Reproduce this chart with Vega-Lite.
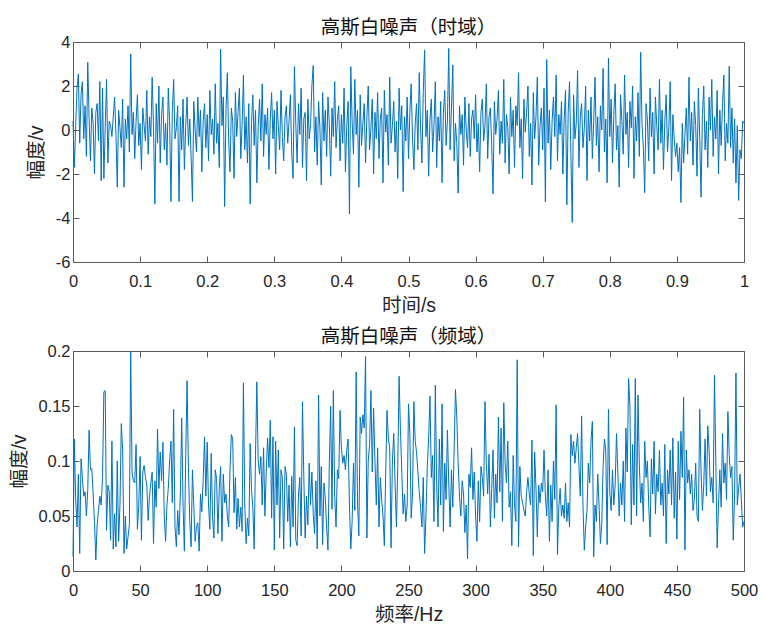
{
"$schema":"https://vega.github.io/schema/vega-lite/v6.json",
"background":"white",
"padding":{"left":8,"top":17,"right":5,"bottom":5},
"spacing":10,
"config":{
"font":"Liberation Sans, Noto Sans CJK SC",
"view":{"stroke":"#5a5a5a","strokeWidth":1},
"axis":{"domain":false,"grid":false,"tickSize":-6,"tickColor":"#5a5a5a","tickWidth":1,"labelFontSize":16.5,"labelColor":"#262626","titleFontSize":19.5,"titleFontWeight":"normal","titleColor":"#262626","labelFont":"Liberation Sans, Noto Sans CJK SC","titleFont":"Liberation Sans, Noto Sans CJK SC"},
"axisX":{"labelPadding":17,"titlePadding":7,"labelFlush":false},
"axisY":{"labelPadding":9,"titlePadding":7},
"title":{"fontSize":19.5,"fontWeight":"normal","color":"#111111","offset":-4,"frame":"group","anchor":"middle","font":"Liberation Sans, Noto Sans CJK SC"}
},
"datasets":{
"time":[
{"t":0,"v":0.4},{"t":0.002,"v":-1.7},{"t":0.004,"v":0.2},{"t":0.006,"v":1.9},{"t":0.008,"v":2.55},{"t":0.010,"v":-0.6},{"t":0.012,"v":1.6},{"t":0.014,"v":2.2},{"t":0.016,"v":-0.4},
{"t":0.018,"v":1.1},{"t":0.020,"v":-1.2},{"t":0.022,"v":3.08},{"t":0.024,"v":0.5},{"t":0.026,"v":-1.4},{"t":0.028,"v":1.0},{"t":0.030,"v":0.3},{"t":0.032,"v":-2.0},{"t":0.034,"v":0.8},{"t":0.036,"v":1.2},
{"t":0.038,"v":-0.5},{"t":0.040,"v":2.2},{"t":0.042,"v":-2.3},{"t":0.044,"v":1.9},{"t":0.046,"v":-2.2},{"t":0.048,"v":0.1},{"t":0.050,"v":2.3},{"t":0.052,"v":-1.5},{"t":0.054,"v":0.4},{"t":0.056,"v":0.2},
{"t":0.058,"v":-0.3},{"t":0.060,"v":0.6},{"t":0.062,"v":1.5},{"t":0.064,"v":-0.2},{"t":0.066,"v":-2.6},{"t":0.068,"v":0.9},{"t":0.070,"v":0.1},{"t":0.072,"v":-0.8},{"t":0.074,"v":1.4},{"t":0.076,"v":-2.6},
{"t":0.078,"v":0.5},{"t":0.080,"v":-0.4},{"t":0.082,"v":1.1},{"t":0.084,"v":-1.0},{"t":0.086,"v":3.46},{"t":0.088,"v":-0.2},{"t":0.090,"v":0.8},{"t":0.092,"v":-1.3},{"t":0.094,"v":0.4},{"t":0.096,"v":1.6},
{"t":0.098,"v":-0.7},{"t":0.100,"v":0.3},{"t":0.102,"v":-1.8},{"t":0.104,"v":1.0},{"t":0.106,"v":0.2},{"t":0.108,"v":-0.5},{"t":0.110,"v":1.8},{"t":0.112,"v":-1.1},{"t":0.114,"v":0.6},{"t":0.116,"v":-0.3},
{"t":0.118,"v":2.4},{"t":0.120,"v":0.1},{"t":0.122,"v":-3.37},{"t":0.124,"v":1.2},{"t":0.126,"v":-0.6},{"t":0.128,"v":2.0},{"t":0.130,"v":-1.5},{"t":0.132,"v":0.7},{"t":0.134,"v":1.5},{"t":0.136,"v":-0.9},
{"t":0.138,"v":0.3},{"t":0.140,"v":-1.6},{"t":0.142,"v":1.9},{"t":0.144,"v":0.4},{"t":0.146,"v":-3.25},{"t":0.148,"v":0.8},{"t":0.150,"v":2.3},{"t":0.152,"v":-0.4},{"t":0.154,"v":0.1},{"t":0.156,"v":1.1},
{"t":0.158,"v":-3.25},{"t":0.160,"v":0.6},{"t":0.162,"v":-0.9},{"t":0.164,"v":1.4},{"t":0.166,"v":-1.8},{"t":0.168,"v":0.2},{"t":0.170,"v":1.5},{"t":0.172,"v":-0.7},{"t":0.174,"v":0.5},{"t":0.176,"v":-1.2},
{"t":0.178,"v":-3.25},{"t":0.180,"v":1.3},{"t":0.182,"v":0.0},{"t":0.184,"v":-1.0},{"t":0.186,"v":1.5},{"t":0.188,"v":-0.3},{"t":0.190,"v":0.9},{"t":0.192,"v":-1.9},{"t":0.194,"v":0.4},{"t":0.196,"v":1.2},
{"t":0.198,"v":-0.8},{"t":0.200,"v":0.7},{"t":0.202,"v":-1.4},{"t":0.204,"v":1.8},{"t":0.206,"v":-0.2},{"t":0.208,"v":0.5},{"t":0.210,"v":-1.1},{"t":0.212,"v":2.1},{"t":0.214,"v":-0.6},{"t":0.216,"v":0.3},
{"t":0.218,"v":-1.7},{"t":0.220,"v":3.68},{"t":0.222,"v":0.2},{"t":0.224,"v":1.5},{"t":0.226,"v":-3.48},{"t":0.228,"v":0.9},{"t":0.230,"v":2.6},{"t":0.232,"v":-0.5},{"t":0.234,"v":-1.9},{"t":0.236,"v":1.0},
{"t":0.238,"v":0.4},{"t":0.240,"v":-2.2},{"t":0.242,"v":1.7},{"t":0.244,"v":-0.3},{"t":0.246,"v":0.8},{"t":0.248,"v":1.9},{"t":0.250,"v":-1.3},{"t":0.252,"v":0.2},{"t":0.254,"v":2.5},{"t":0.256,"v":-0.9},
{"t":0.258,"v":0.6},{"t":0.260,"v":-1.5},{"t":0.262,"v":1.2},{"t":0.264,"v":-3.37},{"t":0.266,"v":0.3},{"t":0.268,"v":1.6},{"t":0.270,"v":-0.7},{"t":0.272,"v":0.9},{"t":0.274,"v":-2.4},{"t":0.276,"v":0.1},
{"t":0.278,"v":1.4},{"t":0.280,"v":-0.5},{"t":0.282,"v":2.1},{"t":0.284,"v":-1.2},{"t":0.286,"v":0.7},{"t":0.288,"v":-0.2},{"t":0.290,"v":1.0},{"t":0.292,"v":-1.8},{"t":0.294,"v":0.5},{"t":0.296,"v":1.7},
{"t":0.298,"v":-0.4},{"t":0.300,"v":0.9},{"t":0.302,"v":-2.0},{"t":0.304,"v":1.3},{"t":0.306,"v":0.2},{"t":0.308,"v":-0.9},{"t":0.310,"v":1.8},{"t":0.312,"v":-0.3},{"t":0.314,"v":-1.4},{"t":0.316,"v":0.6},
{"t":0.318,"v":1.1},{"t":0.320,"v":-0.6},{"t":0.322,"v":0.4},{"t":0.324,"v":1.6},{"t":0.326,"v":-1.1},{"t":0.328,"v":-2.2},{"t":0.330,"v":2.88},{"t":0.332,"v":0.3},{"t":0.334,"v":-1.5},{"t":0.336,"v":1.2},
{"t":0.338,"v":-0.2},{"t":0.340,"v":1.9},{"t":0.342,"v":-1.7},{"t":0.344,"v":0.5},{"t":0.346,"v":0.8},{"t":0.348,"v":-2.3},{"t":0.350,"v":1.4},{"t":0.352,"v":-0.4},{"t":0.354,"v":0.2},{"t":0.356,"v":2.0},
{"t":0.358,"v":2.93},{"t":0.360,"v":-1.0},{"t":0.362,"v":0.6},{"t":0.364,"v":-1.6},{"t":0.366,"v":1.3},{"t":0.368,"v":0.1},{"t":0.370,"v":-2.5},{"t":0.372,"v":1.7},{"t":0.374,"v":-0.5},{"t":0.376,"v":0.9},
{"t":0.378,"v":-1.2},{"t":0.380,"v":1.5},{"t":0.382,"v":0.3},{"t":0.384,"v":-2.1},{"t":0.386,"v":1.0},{"t":0.388,"v":-0.3},{"t":0.390,"v":2.2},{"t":0.392,"v":-0.8},{"t":0.394,"v":0.5},{"t":0.396,"v":1.1},
{"t":0.398,"v":-1.4},{"t":0.400,"v":0.7},{"t":0.402,"v":-0.6},{"t":0.404,"v":1.9},{"t":0.406,"v":-1.9},{"t":0.408,"v":0.2},{"t":0.410,"v":1.3},{"t":0.412,"v":-3.82},{"t":0.414,"v":2.88},{"t":0.416,"v":0.4},
{"t":0.418,"v":-1.1},{"t":0.420,"v":2.3},{"t":0.422,"v":-0.2},{"t":0.424,"v":0.9},{"t":0.426,"v":-2.6},{"t":0.428,"v":1.6},{"t":0.430,"v":-0.7},{"t":0.432,"v":0.3},{"t":0.434,"v":1.2},{"t":0.436,"v":-1.5},
{"t":0.438,"v":0.6},{"t":0.440,"v":2.0},{"t":0.442,"v":-0.9},{"t":0.444,"v":0.1},{"t":0.446,"v":1.4},{"t":0.448,"v":-2.0},{"t":0.450,"v":0.8},{"t":0.452,"v":-0.4},{"t":0.454,"v":1.7},{"t":0.456,"v":-1.3},
{"t":0.458,"v":0.5},{"t":0.460,"v":1.0},{"t":0.462,"v":-2.4},{"t":0.464,"v":1.8},{"t":0.466,"v":-0.1},{"t":0.468,"v":0.7},{"t":0.470,"v":-1.6},{"t":0.472,"v":2.4},{"t":0.474,"v":-0.6},{"t":0.476,"v":0.2},
{"t":0.478,"v":1.3},{"t":0.480,"v":-1.0},{"t":0.482,"v":0.4},{"t":0.484,"v":-2.2},{"t":0.486,"v":1.9},{"t":0.488,"v":0.0},{"t":0.490,"v":1.1},{"t":0.492,"v":-2.8},{"t":0.494,"v":0.6},{"t":0.496,"v":-0.5},
{"t":0.498,"v":1.5},{"t":0.500,"v":-1.3},{"t":0.502,"v":0.8},{"t":0.504,"v":2.1},{"t":0.506,"v":-0.4},{"t":0.508,"v":-1.8},{"t":0.510,"v":0.3},{"t":0.512,"v":1.2},{"t":0.514,"v":-0.9},{"t":0.516,"v":2.6},
{"t":0.518,"v":0.1},{"t":0.520,"v":-1.5},{"t":0.522,"v":1.7},{"t":0.524,"v":3.64},{"t":0.526,"v":-0.3},{"t":0.528,"v":0.9},{"t":0.530,"v":-2.1},{"t":0.532,"v":0.5},{"t":0.534,"v":1.4},{"t":0.536,"v":-1.0},
{"t":0.538,"v":0.2},{"t":0.540,"v":2.2},{"t":0.542,"v":-1.7},{"t":0.544,"v":0.6},{"t":0.546,"v":-0.5},{"t":0.548,"v":1.3},{"t":0.550,"v":-2.4},{"t":0.552,"v":0.8},{"t":0.554,"v":1.8},{"t":0.556,"v":-0.7},
{"t":0.558,"v":0.4},{"t":0.560,"v":3.71},{"t":0.562,"v":-0.9},{"t":0.564,"v":1.0},{"t":0.566,"v":2.96},{"t":0.568,"v":-1.4},{"t":0.570,"v":0.3},{"t":0.572,"v":-0.6},{"t":0.574,"v":-2.87},{"t":0.576,"v":1.1},
{"t":0.578,"v":-0.2},{"t":0.580,"v":0.7},{"t":0.582,"v":-1.6},{"t":0.584,"v":1.5},{"t":0.586,"v":0.0},{"t":0.588,"v":-0.8},{"t":0.590,"v":1.2},{"t":0.592,"v":-1.2},{"t":0.594,"v":0.5},{"t":0.596,"v":0.9},
{"t":0.598,"v":-0.4},{"t":0.600,"v":1.6},{"t":0.602,"v":-1.0},{"t":0.604,"v":0.3},{"t":0.606,"v":-1.9},{"t":0.608,"v":0.8},{"t":0.610,"v":1.4},{"t":0.612,"v":-0.5},{"t":0.614,"v":0.2},{"t":0.616,"v":2.1},
{"t":0.618,"v":-1.3},{"t":0.620,"v":0.6},{"t":0.622,"v":1.0},{"t":0.624,"v":-0.7},{"t":0.626,"v":-2.9},{"t":0.628,"v":1.3},{"t":0.630,"v":-0.2},{"t":0.632,"v":0.5},{"t":0.634,"v":1.8},{"t":0.636,"v":-1.1},
{"t":0.638,"v":0.4},{"t":0.640,"v":-0.6},{"t":0.642,"v":2.3},{"t":0.644,"v":-1.5},{"t":0.646,"v":0.7},{"t":0.648,"v":0.1},{"t":0.650,"v":-2.0},{"t":0.652,"v":1.5},{"t":0.654,"v":-0.3},{"t":0.656,"v":0.9},
{"t":0.658,"v":-1.7},{"t":0.660,"v":1.1},{"t":0.662,"v":0.2},{"t":0.664,"v":2.6},{"t":0.666,"v":-0.8},{"t":0.668,"v":0.5},{"t":0.670,"v":-2.2},{"t":0.672,"v":1.4},{"t":0.674,"v":-0.1},{"t":0.676,"v":0.8},
{"t":0.678,"v":2.0},{"t":0.680,"v":-1.2},{"t":0.682,"v":0.3},{"t":0.684,"v":-2.5},{"t":0.686,"v":1.7},{"t":0.688,"v":-0.4},{"t":0.690,"v":0.6},{"t":0.692,"v":2.4},{"t":0.694,"v":-1.6},{"t":0.696,"v":0.2},
{"t":0.698,"v":1.0},{"t":0.700,"v":-0.9},{"t":0.702,"v":1.9},{"t":0.704,"v":-3.27},{"t":0.706,"v":3.2},{"t":0.708,"v":-0.6},{"t":0.710,"v":0.9},{"t":0.712,"v":-1.8},{"t":0.714,"v":0.4},{"t":0.716,"v":1.5},
{"t":0.718,"v":-0.3},{"t":0.720,"v":2.5},{"t":0.722,"v":-1.4},{"t":0.724,"v":0.7},{"t":0.726,"v":-0.2},{"t":0.728,"v":1.3},{"t":0.730,"v":-2.0},{"t":0.732,"v":0.5},{"t":0.734,"v":1.8},{"t":0.736,"v":-3.4},
{"t":0.738,"v":0.8},{"t":0.740,"v":2.2},{"t":0.742,"v":-1.1},{"t":0.744,"v":-4.2},{"t":0.746,"v":1.6},{"t":0.748,"v":-0.4},{"t":0.750,"v":0.3},{"t":0.752,"v":2.7},{"t":0.754,"v":-1.7},{"t":0.756,"v":0.6},
{"t":0.758,"v":1.2},{"t":0.760,"v":-0.8},{"t":0.762,"v":0.1},{"t":0.764,"v":2.0},{"t":0.766,"v":-2.3},{"t":0.768,"v":0.9},{"t":0.770,"v":-0.5},{"t":0.772,"v":1.5},{"t":0.774,"v":-1.3},{"t":0.776,"v":0.4},
{"t":0.778,"v":2.4},{"t":0.780,"v":-0.7},{"t":0.782,"v":0.6},{"t":0.784,"v":-1.9},{"t":0.786,"v":1.1},{"t":0.788,"v":0.0},{"t":0.790,"v":2.8},{"t":0.792,"v":-1.0},{"t":0.794,"v":0.5},{"t":0.796,"v":-2.4},
{"t":0.798,"v":3.27},{"t":0.800,"v":-0.3},{"t":0.802,"v":1.4},{"t":0.804,"v":-1.5},{"t":0.806,"v":0.7},{"t":0.808,"v":2.1},{"t":0.810,"v":-0.9},{"t":0.812,"v":0.2},{"t":0.814,"v":-2.6},{"t":0.816,"v":1.6},
{"t":0.818,"v":0.4},{"t":0.820,"v":-1.1},{"t":0.822,"v":2.5},{"t":0.824,"v":-0.2},{"t":0.826,"v":0.8},{"t":0.828,"v":-1.7},{"t":0.830,"v":1.3},{"t":0.832,"v":0.1},{"t":0.834,"v":2.0},{"t":0.836,"v":-2.2},
{"t":0.838,"v":0.6},{"t":0.840,"v":-0.5},{"t":0.842,"v":1.7},{"t":0.844,"v":-1.2},{"t":0.846,"v":3.53},{"t":0.848,"v":0.3},{"t":0.850,"v":-0.8},{"t":0.852,"v":-2.85},{"t":0.854,"v":1.2},{"t":0.856,"v":0.5},
{"t":0.858,"v":-1.4},{"t":0.860,"v":1.9},{"t":0.862,"v":-0.3},{"t":0.864,"v":0.8},{"t":0.866,"v":-2.0},{"t":0.868,"v":1.5},{"t":0.870,"v":0.2},{"t":0.872,"v":-0.9},{"t":0.874,"v":2.3},{"t":0.876,"v":-0.6},
{"t":0.878,"v":0.9},{"t":0.880,"v":-1.8},{"t":0.882,"v":0.4},{"t":0.884,"v":1.6},{"t":0.886,"v":-1.0},{"t":0.888,"v":0.1},{"t":0.890,"v":2.2},{"t":0.892,"v":-2.3},{"t":0.894,"v":0.7},{"t":0.896,"v":-0.4},
{"t":0.898,"v":-1.2},{"t":0.900,"v":-0.6},{"t":0.902,"v":-1.9},{"t":0.904,"v":-0.8},{"t":0.906,"v":-3.3},{"t":0.908,"v":0.3},{"t":0.910,"v":-1.5},{"t":0.912,"v":-0.2},{"t":0.914,"v":1.0},{"t":0.916,"v":-1.1},
{"t":0.918,"v":2.4},{"t":0.920,"v":-0.5},{"t":0.922,"v":0.8},{"t":0.924,"v":-1.6},{"t":0.926,"v":1.3},{"t":0.928,"v":0.2},{"t":0.930,"v":-2.1},{"t":0.932,"v":1.9},{"t":0.934,"v":-0.3},{"t":0.936,"v":-3.05},
{"t":0.938,"v":0.7},{"t":0.940,"v":2.0},{"t":0.942,"v":-0.9},{"t":0.944,"v":0.4},{"t":0.946,"v":-1.7},{"t":0.948,"v":1.5},{"t":0.950,"v":0.0},{"t":0.952,"v":2.3},{"t":0.954,"v":-1.2},{"t":0.956,"v":0.6},
{"t":0.958,"v":-0.4},{"t":0.960,"v":1.8},{"t":0.962,"v":-2.0},{"t":0.964,"v":0.9},{"t":0.966,"v":-0.7},{"t":0.968,"v":1.2},{"t":0.970,"v":2.5},{"t":0.972,"v":-1.4},{"t":0.974,"v":0.3},{"t":0.976,"v":-0.6},
{"t":0.978,"v":2.9},{"t":0.980,"v":-0.8},{"t":0.982,"v":1.0},{"t":0.984,"v":-1.5},{"t":0.986,"v":0.5},{"t":0.988,"v":-2.4},{"t":0.990,"v":0.2},{"t":0.992,"v":-3.2},{"t":0.994,"v":-0.9},{"t":0.996,"v":-1.3},
{"t":0.998,"v":0.4},{"t":1.000,"v":0.3}
],
"freq":[
{"f":0,"a":0.013},{"f":1,"a":0.120},{"f":2,"a":0.065},{"f":3,"a":0.040},{"f":4,"a":0.088},{"f":5,"a":0.016},{"f":6,"a":0.102},{"f":7,"a":0.085},{"f":8,"a":0.068},
{"f":9,"a":0.072},{"f":10,"a":0.050},{"f":11,"a":0.074},{"f":12,"a":0.128},{"f":13,"a":0.092},{"f":14,"a":0.093},{"f":15,"a":0.070},{"f":16,"a":0.045},{"f":17,"a":0.010},{"f":18,"a":0.042},
{"f":19,"a":0.055},{"f":20,"a":0.068},{"f":21,"a":0.060},{"f":22,"a":0.085},{"f":23,"a":0.163},{"f":24,"a":0.164},{"f":25,"a":0.037},{"f":26,"a":0.078},{"f":27,"a":0.072},{"f":28,"a":0.028},
{"f":29,"a":0.118},{"f":30,"a":0.020},{"f":31,"a":0.052},{"f":32,"a":0.022},{"f":33,"a":0.100},{"f":34,"a":0.027},{"f":35,"a":0.060},{"f":36,"a":0.134},{"f":37,"a":0.110},{"f":38,"a":0.016},
{"f":39,"a":0.050},{"f":40,"a":0.020},{"f":41,"a":0.031},{"f":42,"a":0.042},{"f":43,"a":0.199},{"f":44,"a":0.090},{"f":45,"a":0.082},{"f":46,"a":0.080},{"f":47,"a":0.115},{"f":48,"a":0.038},
{"f":49,"a":0.060},{"f":50,"a":0.104},{"f":51,"a":0.028},{"f":52,"a":0.090},{"f":53,"a":0.096},{"f":54,"a":0.085},{"f":55,"a":0.078},{"f":56,"a":0.046},{"f":57,"a":0.068},{"f":58,"a":0.080},
{"f":59,"a":0.090},{"f":60,"a":0.025},{"f":61,"a":0.082},{"f":62,"a":0.058},{"f":63,"a":0.129},{"f":64,"a":0.075},{"f":65,"a":0.108},{"f":66,"a":0.082},{"f":67,"a":0.117},{"f":68,"a":0.050},
{"f":69,"a":0.027},{"f":70,"a":0.060},{"f":71,"a":0.075},{"f":72,"a":0.100},{"f":73,"a":0.118},{"f":74,"a":0.062},{"f":75,"a":0.147},{"f":76,"a":0.040},{"f":77,"a":0.022},{"f":78,"a":0.055},
{"f":79,"a":0.033},{"f":80,"a":0.070},{"f":81,"a":0.139},{"f":82,"a":0.060},{"f":83,"a":0.018},{"f":84,"a":0.105},{"f":85,"a":0.173},{"f":86,"a":0.095},{"f":87,"a":0.045},{"f":88,"a":0.022},
{"f":89,"a":0.092},{"f":90,"a":0.060},{"f":91,"a":0.027},{"f":92,"a":0.040},{"f":93,"a":0.044},{"f":94,"a":0.018},{"f":95,"a":0.070},{"f":96,"a":0.054},{"f":97,"a":0.083},{"f":98,"a":0.122},
{"f":99,"a":0.068},{"f":100,"a":0.117},{"f":101,"a":0.060},{"f":102,"a":0.038},{"f":103,"a":0.107},{"f":104,"a":0.048},{"f":105,"a":0.030},{"f":106,"a":0.092},{"f":107,"a":0.084},{"f":108,"a":0.034},
{"f":109,"a":0.075},{"f":110,"a":0.095},{"f":111,"a":0.027},{"f":112,"a":0.088},{"f":113,"a":0.062},{"f":114,"a":0.070},{"f":115,"a":0.050},{"f":116,"a":0.040},{"f":117,"a":0.092},{"f":118,"a":0.124},
{"f":119,"a":0.120},{"f":120,"a":0.053},{"f":121,"a":0.085},{"f":122,"a":0.038},{"f":123,"a":0.066},{"f":124,"a":0.040},{"f":125,"a":0.058},{"f":126,"a":0.036},{"f":127,"a":0.171},{"f":128,"a":0.060},
{"f":129,"a":0.025},{"f":130,"a":0.048},{"f":131,"a":0.032},{"f":132,"a":0.116},{"f":133,"a":0.074},{"f":134,"a":0.058},{"f":135,"a":0.020},{"f":136,"a":0.105},{"f":137,"a":0.172},{"f":138,"a":0.100},
{"f":139,"a":0.088},{"f":140,"a":0.104},{"f":141,"a":0.060},{"f":142,"a":0.112},{"f":143,"a":0.050},{"f":144,"a":0.090},{"f":145,"a":0.121},{"f":146,"a":0.094},{"f":147,"a":0.137},{"f":148,"a":0.048},
{"f":149,"a":0.122},{"f":150,"a":0.019},{"f":151,"a":0.118},{"f":152,"a":0.060},{"f":153,"a":0.110},{"f":154,"a":0.030},{"f":155,"a":0.092},{"f":156,"a":0.085},{"f":157,"a":0.020},{"f":158,"a":0.095},
{"f":159,"a":0.088},{"f":160,"a":0.045},{"f":161,"a":0.078},{"f":162,"a":0.022},{"f":163,"a":0.086},{"f":164,"a":0.040},{"f":165,"a":0.131},{"f":166,"a":0.028},{"f":167,"a":0.023},{"f":168,"a":0.068},
{"f":169,"a":0.085},{"f":170,"a":0.032},{"f":171,"a":0.154},{"f":172,"a":0.085},{"f":173,"a":0.030},{"f":174,"a":0.068},{"f":175,"a":0.042},{"f":176,"a":0.098},{"f":177,"a":0.060},{"f":178,"a":0.090},
{"f":179,"a":0.052},{"f":180,"a":0.034},{"f":181,"a":0.082},{"f":182,"a":0.020},{"f":183,"a":0.160},{"f":184,"a":0.050},{"f":185,"a":0.095},{"f":186,"a":0.024},{"f":187,"a":0.080},{"f":188,"a":0.066},
{"f":189,"a":0.040},{"f":190,"a":0.019},{"f":191,"a":0.098},{"f":192,"a":0.150},{"f":193,"a":0.056},{"f":194,"a":0.164},{"f":195,"a":0.068},{"f":196,"a":0.040},{"f":197,"a":0.092},{"f":198,"a":0.084},
{"f":199,"a":0.146},{"f":200,"a":0.112},{"f":201,"a":0.098},{"f":202,"a":0.105},{"f":203,"a":0.092},{"f":204,"a":0.110},{"f":205,"a":0.120},{"f":206,"a":0.060},{"f":207,"a":0.020},{"f":208,"a":0.045},
{"f":209,"a":0.098},{"f":210,"a":0.055},{"f":211,"a":0.181},{"f":212,"a":0.062},{"f":213,"a":0.032},{"f":214,"a":0.140},{"f":215,"a":0.125},{"f":216,"a":0.142},{"f":217,"a":0.130},{"f":218,"a":0.195},
{"f":219,"a":0.030},{"f":220,"a":0.100},{"f":221,"a":0.115},{"f":222,"a":0.164},{"f":223,"a":0.090},{"f":224,"a":0.148},{"f":225,"a":0.100},{"f":226,"a":0.060},{"f":227,"a":0.112},{"f":228,"a":0.040},
{"f":229,"a":0.085},{"f":230,"a":0.065},{"f":231,"a":0.050},{"f":232,"a":0.023},{"f":233,"a":0.088},{"f":234,"a":0.146},{"f":235,"a":0.120},{"f":236,"a":0.112},{"f":237,"a":0.021},{"f":238,"a":0.100},
{"f":239,"a":0.125},{"f":240,"a":0.080},{"f":241,"a":0.040},{"f":242,"a":0.095},{"f":243,"a":0.177},{"f":244,"a":0.128},{"f":245,"a":0.090},{"f":246,"a":0.052},{"f":247,"a":0.070},{"f":248,"a":0.045},
{"f":249,"a":0.060},{"f":250,"a":0.152},{"f":251,"a":0.125},{"f":252,"a":0.048},{"f":253,"a":0.070},{"f":254,"a":0.154},{"f":255,"a":0.118},{"f":256,"a":0.108},{"f":257,"a":0.090},{"f":258,"a":0.072},
{"f":259,"a":0.058},{"f":260,"a":0.040},{"f":261,"a":0.085},{"f":262,"a":0.016},{"f":263,"a":0.050},{"f":264,"a":0.095},{"f":265,"a":0.120},{"f":266,"a":0.159},{"f":267,"a":0.085},{"f":268,"a":0.105},
{"f":269,"a":0.045},{"f":270,"a":0.169},{"f":271,"a":0.078},{"f":272,"a":0.040},{"f":273,"a":0.120},{"f":274,"a":0.060},{"f":275,"a":0.152},{"f":276,"a":0.036},{"f":277,"a":0.098},{"f":278,"a":0.065},
{"f":279,"a":0.128},{"f":280,"a":0.080},{"f":281,"a":0.040},{"f":282,"a":0.092},{"f":283,"a":0.058},{"f":284,"a":0.110},{"f":285,"a":0.165},{"f":286,"a":0.140},{"f":287,"a":0.098},{"f":288,"a":0.068},
{"f":289,"a":0.050},{"f":290,"a":0.082},{"f":291,"a":0.070},{"f":292,"a":0.035},{"f":293,"a":0.060},{"f":294,"a":0.011},{"f":295,"a":0.088},{"f":296,"a":0.076},{"f":297,"a":0.112},{"f":298,"a":0.065},
{"f":299,"a":0.090},{"f":300,"a":0.050},{"f":301,"a":0.027},{"f":302,"a":0.082},{"f":303,"a":0.045},{"f":304,"a":0.095},{"f":305,"a":0.085},{"f":306,"a":0.068},{"f":307,"a":0.154},{"f":308,"a":0.098},
{"f":309,"a":0.070},{"f":310,"a":0.106},{"f":311,"a":0.040},{"f":312,"a":0.075},{"f":313,"a":0.110},{"f":314,"a":0.048},{"f":315,"a":0.088},{"f":316,"a":0.062},{"f":317,"a":0.140},{"f":318,"a":0.072},
{"f":319,"a":0.130},{"f":320,"a":0.045},{"f":321,"a":0.153},{"f":322,"a":0.098},{"f":323,"a":0.080},{"f":324,"a":0.118},{"f":325,"a":0.058},{"f":326,"a":0.072},{"f":327,"a":0.023},{"f":328,"a":0.105},
{"f":329,"a":0.060},{"f":330,"a":0.045},{"f":331,"a":0.192},{"f":332,"a":0.022},{"f":333,"a":0.095},{"f":334,"a":0.068},{"f":335,"a":0.062},{"f":336,"a":0.055},{"f":337,"a":0.050},{"f":338,"a":0.072},
{"f":339,"a":0.085},{"f":340,"a":0.070},{"f":341,"a":0.060},{"f":342,"a":0.119},{"f":343,"a":0.014},{"f":344,"a":0.108},{"f":345,"a":0.075},{"f":346,"a":0.031},{"f":347,"a":0.078},{"f":348,"a":0.062},
{"f":349,"a":0.080},{"f":350,"a":0.072},{"f":351,"a":0.110},{"f":352,"a":0.068},{"f":353,"a":0.050},{"f":354,"a":0.092},{"f":355,"a":0.027},{"f":356,"a":0.078},{"f":357,"a":0.045},{"f":358,"a":0.100},
{"f":359,"a":0.065},{"f":360,"a":0.151},{"f":361,"a":0.015},{"f":362,"a":0.058},{"f":363,"a":0.075},{"f":364,"a":0.050},{"f":365,"a":0.060},{"f":366,"a":0.048},{"f":367,"a":0.080},{"f":368,"a":0.045},
{"f":369,"a":0.062},{"f":370,"a":0.040},{"f":371,"a":0.124},{"f":372,"a":0.105},{"f":373,"a":0.118},{"f":374,"a":0.098},{"f":375,"a":0.112},{"f":376,"a":0.125},{"f":377,"a":0.095},{"f":378,"a":0.068},
{"f":379,"a":0.141},{"f":380,"a":0.060},{"f":381,"a":0.019},{"f":382,"a":0.040},{"f":383,"a":0.055},{"f":384,"a":0.098},{"f":385,"a":0.080},{"f":386,"a":0.118},{"f":387,"a":0.136},{"f":388,"a":0.013},
{"f":389,"a":0.060},{"f":390,"a":0.045},{"f":391,"a":0.088},{"f":392,"a":0.060},{"f":393,"a":0.025},{"f":394,"a":0.042},{"f":395,"a":0.095},{"f":396,"a":0.120},{"f":397,"a":0.110},{"f":398,"a":0.024},
{"f":399,"a":0.147},{"f":400,"a":0.072},{"f":401,"a":0.055},{"f":402,"a":0.092},{"f":403,"a":0.060},{"f":404,"a":0.078},{"f":405,"a":0.125},{"f":406,"a":0.090},{"f":407,"a":0.050},{"f":408,"a":0.080},
{"f":409,"a":0.060},{"f":410,"a":0.100},{"f":411,"a":0.045},{"f":412,"a":0.130},{"f":413,"a":0.090},{"f":414,"a":0.175},{"f":415,"a":0.150},{"f":416,"a":0.042},{"f":417,"a":0.115},{"f":418,"a":0.060},
{"f":419,"a":0.175},{"f":420,"a":0.050},{"f":421,"a":0.160},{"f":422,"a":0.098},{"f":423,"a":0.062},{"f":424,"a":0.080},{"f":425,"a":0.045},{"f":426,"a":0.118},{"f":427,"a":0.085},{"f":428,"a":0.100},
{"f":429,"a":0.060},{"f":430,"a":0.031},{"f":431,"a":0.102},{"f":432,"a":0.070},{"f":433,"a":0.118},{"f":434,"a":0.052},{"f":435,"a":0.088},{"f":436,"a":0.072},{"f":437,"a":0.110},{"f":438,"a":0.060},
{"f":439,"a":0.080},{"f":440,"a":0.050},{"f":441,"a":0.115},{"f":442,"a":0.025},{"f":443,"a":0.092},{"f":444,"a":0.070},{"f":445,"a":0.110},{"f":446,"a":0.060},{"f":447,"a":0.121},{"f":448,"a":0.048},
{"f":449,"a":0.090},{"f":450,"a":0.029},{"f":451,"a":0.118},{"f":452,"a":0.065},{"f":453,"a":0.127},{"f":454,"a":0.085},{"f":455,"a":0.158},{"f":456,"a":0.019},{"f":457,"a":0.110},{"f":458,"a":0.080},
{"f":459,"a":0.092},{"f":460,"a":0.070},{"f":461,"a":0.088},{"f":462,"a":0.055},{"f":463,"a":0.065},{"f":464,"a":0.098},{"f":465,"a":0.050},{"f":466,"a":0.045},{"f":467,"a":0.147},{"f":468,"a":0.090},
{"f":469,"a":0.055},{"f":470,"a":0.078},{"f":471,"a":0.120},{"f":472,"a":0.068},{"f":473,"a":0.132},{"f":474,"a":0.110},{"f":475,"a":0.072},{"f":476,"a":0.085},{"f":477,"a":0.062},{"f":478,"a":0.178},
{"f":479,"a":0.100},{"f":480,"a":0.021},{"f":481,"a":0.060},{"f":482,"a":0.092},{"f":483,"a":0.058},{"f":484,"a":0.125},{"f":485,"a":0.080},{"f":486,"a":0.098},{"f":487,"a":0.065},{"f":488,"a":0.145},
{"f":489,"a":0.105},{"f":490,"a":0.085},{"f":491,"a":0.095},{"f":492,"a":0.028},{"f":493,"a":0.070},{"f":494,"a":0.180},{"f":495,"a":0.060},{"f":496,"a":0.075},{"f":497,"a":0.088},{"f":498,"a":0.065},
{"f":499,"a":0.040},{"f":500,"a":0.045}
]
},
"vconcat":[
{
"title":{"text":"高斯白噪声（时域）"},
"width":671,"height":220,
"data":{"name":"time"},
"layer":[
{"mark":{"type":"line","color":"#0072BD","strokeWidth":1},
"encoding":{
"x":{"field":"t","type":"quantitative","scale":{"domain":[0,1],"nice":false,"zero":false},"axis":{"values":[0,0.1,0.2,0.3,0.4,0.5,0.6,0.7,0.8,0.9,1],"title":"时间/s","labelExpr":"toString(datum.value)"}},
"y":{"field":"v","type":"quantitative","scale":{"domain":[-6,4],"nice":false,"zero":false},"axis":{"values":[-6,-4,-2,0,2,4],"title":"幅度/v","titleX":-27,"labelExpr":"toString(datum.value)"}}
}},
{"mark":{"type":"point","opacity":0},
"encoding":{
"x":{"field":"t","type":"quantitative","axis":{"orient":"top","values":[0,0.1,0.2,0.3,0.4,0.5,0.6,0.7,0.8,0.9,1],"labels":false,"title":null}},
"y":{"field":"v","type":"quantitative","axis":{"orient":"right","values":[-6,-4,-2,0,2,4],"labels":false,"title":null}}
}}
],
"resolve":{"axis":{"x":"independent","y":"independent"}}
},
{
"title":{"text":"高斯白噪声（频域）"},
"width":671,"height":220,
"data":{"name":"freq"},
"layer":[
{"mark":{"type":"line","color":"#0072BD","strokeWidth":1},
"encoding":{
"x":{"field":"f","type":"quantitative","scale":{"domain":[0,500],"nice":false,"zero":false},"axis":{"values":[0,50,100,150,200,250,300,350,400,450,500],"title":"频率/Hz","labelExpr":"toString(datum.value)"}},
"y":{"field":"a","type":"quantitative","scale":{"domain":[0,0.2],"nice":false,"zero":false},"axis":{"values":[0,0.05,0.1,0.15,0.2],"title":"幅度/v","titleX":-44,"labelExpr":"toString(datum.value)"}}
}},
{"mark":{"type":"point","opacity":0},
"encoding":{
"x":{"field":"f","type":"quantitative","axis":{"orient":"top","values":[0,50,100,150,200,250,300,350,400,450,500],"labels":false,"title":null}},
"y":{"field":"a","type":"quantitative","axis":{"orient":"right","values":[0,0.05,0.1,0.15,0.2],"labels":false,"title":null}}
}}
],
"resolve":{"axis":{"x":"independent","y":"independent"}}
}
]
}
